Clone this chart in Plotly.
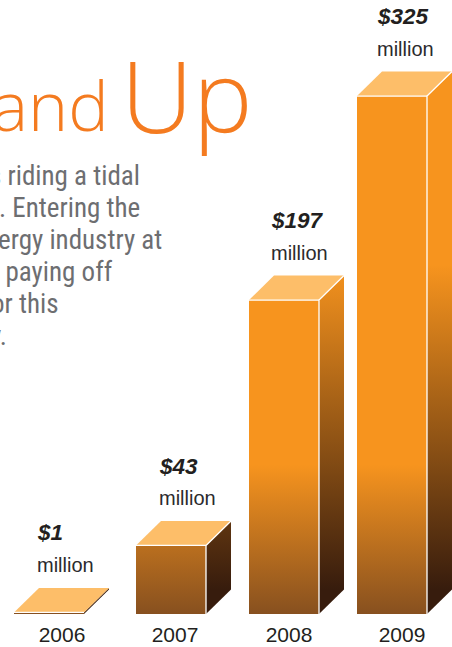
import plotly.graph_objects as go

# ---- data ----
years = ["2006", "2007", "2008", "2009"]
revenue_millions = [1, 43, 197, 325]
value_labels = ["$1", "$43", "$197", "$325"]
unit_label = "million"
headline_small = "and"
headline_large = "Up"
body_lines = ["s riding a tidal", ". Entering the", "ergy industry at", "s paying off", "or this", "y."]

# ---- layout constants (pixels) ----
W, H = 452, 647
BASE_PX = 614.5
PX_PER_UNIT = 1.595
BAR_LEFT = [14, 136, 249, 357]
BAR_W = 70
DX, DY_PX = 25, 24.5
LABEL_LEFT = [36, 158, 270, 376]
YEAR_CENTER = [62, 175, 289, 402]
BODY_RIGHT = [141, 141, 163, 114, 60, 8]
BODY_Y = [176, 208, 240, 272, 304, 336]

def v(px):
    return (BASE_PX - px) / PX_PER_UNIT

DY = DY_PX / PX_PER_UNIT
ORANGE = "#F7941E"
FRONT_END = "#87501F"
SIDE_END = "#371C0D"
TOP = "#FDBE69"
INK = "#231F20"
GREY = "#6D6E71"
TITLE = "#F47B20"

fig = go.Figure()

def poly(xs, ys, **kw):
    fig.add_trace(go.Scatter(x=xs + xs[:1], y=ys + ys[:1], mode="lines", fill="toself",
                             line=dict(width=0), hoverinfo="skip", showlegend=False, **kw))

for left, val in zip(BAR_LEFT, revenue_millions):
    r = left + BAR_W
    poly([r, r, r + DX, r + DX], [0, val, val + DY, DY],
         fillcolor=ORANGE,
         fillgradient=dict(type="vertical", colorscale=[[0, SIDE_END], [1, ORANGE]],
                           start=v(590), stop=v(265)))
    poly([left, left, r, r], [0, val, val, 0],
         fillcolor=ORANGE,
         fillgradient=dict(type="vertical", colorscale=[[0, FRONT_END], [1, ORANGE]],
                           start=0, stop=v(465)))
    poly([left, r, r + DX, left + DX], [val, val, val + DY, val + DY], fillcolor=TOP)
    # white highlight edges between faces
    fig.add_trace(go.Scatter(x=[left, r], y=[val, val], mode="lines",
                             line=dict(color="white", width=1.3),
                             hoverinfo="skip", showlegend=False))
    if val > 5:
        fig.add_trace(go.Scatter(x=[r + DX, r, r],
                                 y=[val + DY, val, 0],
                                 mode="lines", line=dict(color="white", width=1.3),
                                 hoverinfo="skip", showlegend=False))

ann = []
def text(x, y_px, s, size, color, anchor="left", family="Liberation Sans", **fkw):
    ann.append(dict(x=x, y=v(y_px), xref="x", yref="y", text=s, showarrow=False,
                    xanchor=anchor, yanchor="middle", align=anchor,
                    borderpad=0, font=dict(family=family, size=size, color=color, **fkw)))

for x, val, lab in zip(LABEL_LEFT, revenue_millions, value_labels):
    top_px = BASE_PX - val * PX_PER_UNIT - DY_PX
    text(x, top_px - 55, f"<b><i>{lab}</i></b>", 22.5, INK)
    text(x, top_px - 23, unit_label, 20, "#2B2A2C")

text(110, 105, headline_small, 68, TITLE, anchor="right", family="Open Sans", weight=300)
text(120, 94, headline_large, 100, TITLE, family="Open Sans", weight=300)

for rx, yp, line in zip(BODY_RIGHT, BODY_Y, body_lines):
    text(rx, yp, line, 27, GREY, anchor="right", family="Roboto Condensed, Roboto")

fig.update_layout(
    width=W, height=H, autosize=False,
    margin=dict(l=0, r=0, t=0, b=H - BASE_PX),
    paper_bgcolor="white", plot_bgcolor="white",
    annotations=ann,
    xaxis=dict(range=[0, W], tickmode="array", tickvals=YEAR_CENTER, ticktext=years,
               showgrid=False, zeroline=False, showline=False, ticks="", ticklabelstandoff=6,
               tickfont=dict(family="Liberation Sans", size=21, color=INK)),
    yaxis=dict(range=[0, BASE_PX / PX_PER_UNIT], visible=False),
)

fig.write_html("out.html", config=dict(displayModeBar=False),
               post_script="document.body.style.margin='0';document.body.style.overflow='hidden';")
